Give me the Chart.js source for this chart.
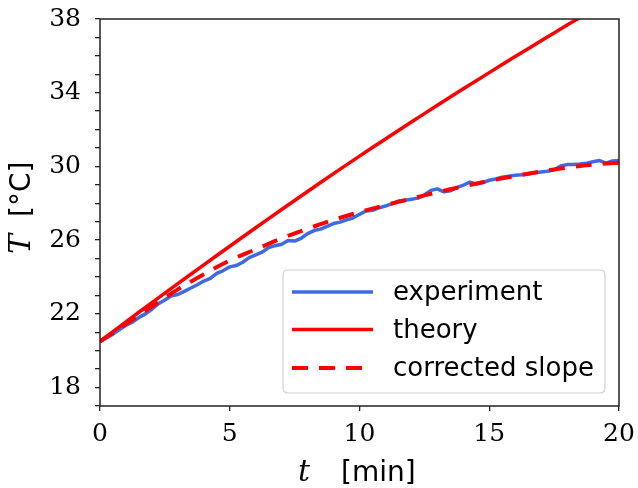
<!DOCTYPE html>
<html>
<head>
<meta charset="utf-8">
<script src="https://cdn.jsdelivr.net/npm/chart.js@4/dist/chart.umd.min.js"></script>
<style>
  html, body { margin: 0; padding: 0; background: #fff; }
  #c { display: block; }
</style>
</head>
<body>
<canvas id="c" width="638" height="488"></canvas>
<script>
// Model curves, one value per minute
const modelMinutes = [0, 1, 2, 3, 4, 5, 6, 7, 8, 9, 10, 11, 12, 13, 14, 15, 16, 17, 18, 19, 20];
const theoryTemp = [20.50, 21.56, 22.61, 23.64, 24.66, 25.67, 26.67, 27.66, 28.64, 29.61, 30.56,
                    31.49, 32.41, 33.32, 34.21, 35.09, 35.96, 36.82, 37.67, 38.50, 39.32];
const correctedTemp = [20.50, 21.45, 22.40, 23.33, 24.15, 24.90, 25.50, 26.10, 26.62, 27.10, 27.52,
                       27.90, 28.25, 28.60, 28.92, 29.22, 29.48, 29.72, 29.93, 30.10, 30.20];

// Measured temperature, sampled every quarter minute
const expMinutes = [0, 0.25, 0.5, 0.75, 1, 1.25, 1.5, 1.75, 2, 2.25, 2.5, 2.75, 3, 3.25, 3.5, 3.75,
                    4, 4.25, 4.5, 4.75, 5, 5.25, 5.5, 5.75, 6, 6.25, 6.5, 6.75, 7, 7.25, 7.5, 7.75,
                    8, 8.25, 8.5, 8.75, 9, 9.25, 9.5, 9.75, 10, 10.25, 10.5, 10.75, 11, 11.25, 11.5, 11.75,
                    12, 12.25, 12.5, 12.75, 13, 13.25, 13.5, 13.75, 14, 14.25, 14.5, 14.75, 15, 15.25, 15.5, 15.75,
                    16, 16.25, 16.5, 16.75, 17, 17.25, 17.5, 17.75, 18, 18.25, 18.5, 18.75, 19, 19.25, 19.5, 19.75, 20];
const expTemp = [20.50, 20.70, 20.90, 21.15, 21.38, 21.55, 21.80, 22.00, 22.25, 22.55, 22.75, 22.98, 23.05, 23.22, 23.40, 23.58,
                 23.78, 23.92, 24.20, 24.35, 24.55, 24.62, 24.80, 25.05, 25.20, 25.35, 25.60, 25.70, 25.78, 25.98, 25.95, 26.10,
                 26.35, 26.52, 26.60, 26.75, 26.90, 26.98, 27.10, 27.20, 27.40, 27.58, 27.62, 27.75, 27.85, 27.98, 28.12, 28.16,
                 28.22, 28.28, 28.45, 28.70, 28.78, 28.62, 28.68, 28.85, 28.98, 29.15, 29.05, 29.12, 29.25, 29.32, 29.42, 29.47,
                 29.52, 29.55, 29.60, 29.66, 29.70, 29.74, 29.82, 30.02, 30.10, 30.10, 30.13, 30.18, 30.25, 30.32, 30.18, 30.30, 30.32];

// Axis ticks
const xTickLabels = [0, 5, 10, 15, 20];
const yTickLabels = [18, 22, 26, 30, 34, 38];

const seriesNames = ['experiment', 'theory', 'corrected slope'];

const toPoints = (xs, ys) => xs.map((x, i) => ({ x: x, y: ys[i] }));

const BLUE = '#4169e1';
const RED = '#ff0000';
const INK = '#222222';

// Frame, in-plot legend and mixed-font axis titles
const decorations = {
  id: 'decorations',
  afterDraw(chart) {
    const ctx = chart.ctx;
    const a = chart.chartArea;
    ctx.save();

    // legend box
    const lx = 283, ly = 270, lw = 322, lh = 123, r = 5;
    ctx.beginPath();
    ctx.moveTo(lx + r, ly);
    ctx.lineTo(lx + lw - r, ly);
    ctx.quadraticCurveTo(lx + lw, ly, lx + lw, ly + r);
    ctx.lineTo(lx + lw, ly + lh - r);
    ctx.quadraticCurveTo(lx + lw, ly + lh, lx + lw - r, ly + lh);
    ctx.lineTo(lx + r, ly + lh);
    ctx.quadraticCurveTo(lx, ly + lh, lx, ly + lh - r);
    ctx.lineTo(lx, ly + r);
    ctx.quadraticCurveTo(lx, ly, lx + r, ly);
    ctx.closePath();
    ctx.fillStyle = 'rgba(255,255,255,0.85)';
    ctx.fill();
    ctx.strokeStyle = '#d0d0d0';
    ctx.lineWidth = 1.2;
    ctx.stroke();

    const rows = [292, 329.5, 368];
    chart.data.datasets.forEach((ds, i) => {
      const y = rows[i];
      ctx.beginPath();
      ctx.setLineDash(ds.borderDash || []);
      ctx.lineCap = 'butt';
      ctx.strokeStyle = ds.borderColor;
      ctx.lineWidth = ds.borderWidth;
      ctx.moveTo(292, y);
      ctx.lineTo(373, y);
      ctx.stroke();
      ctx.setLineDash([]);
      ctx.fillStyle = '#000';
      ctx.font = '26px "DejaVu Sans"';
      ctx.textAlign = 'left';
      ctx.textBaseline = 'alphabetic';
      ctx.fillText(ds.label, 393, y + 8);
    });

    // frame
    ctx.strokeStyle = INK;
    ctx.lineWidth = 1.5;
    ctx.strokeRect(a.left, a.top, a.right - a.left, a.bottom - a.top);

    // x title: t  [min]
    ctx.fillStyle = '#000';
    ctx.textBaseline = 'alphabetic';
    ctx.textAlign = 'left';
    ctx.font = 'italic 30px "DejaVu Serif"';
    ctx.fillText('t', 298, 481);
    ctx.font = '28px "DejaVu Sans"';
    ctx.fillText('[min]', 341, 481);

    // y title: T  [°C], reading upward
    ctx.translate(30, 0);
    ctx.rotate(-Math.PI / 2);
    ctx.font = 'italic 30px "DejaVu Serif"';
    ctx.fillText('T', -254, 0);
    ctx.font = '28px "DejaVu Sans"';
    ctx.fillText('[°C]', -217, 0);

    ctx.restore();
  }
};

// keep the plot box fixed: no extra room reserved for overhanging tick labels
function noScalePadding(scale) {
  scale.paddingTop = 0;
  scale.paddingBottom = 0;
  scale.paddingLeft = 0;
  scale.paddingRight = 0;
}

new Chart(document.getElementById('c'), {
  type: 'line',
  data: {
    datasets: [
      {
        label: seriesNames[0],
        data: toPoints(expMinutes, expTemp),
        borderColor: BLUE,
        borderWidth: 3.5,
        borderJoinStyle: 'round',
        pointRadius: 0,
        tension: 0,
        order: 3
      },
      {
        label: seriesNames[1],
        data: toPoints(modelMinutes, theoryTemp),
        borderColor: RED,
        borderWidth: 3.5,
        pointRadius: 0,
        tension: 0.4,
        order: 2
      },
      {
        label: seriesNames[2],
        data: toPoints(modelMinutes, correctedTemp),
        borderColor: RED,
        borderWidth: 4,
        borderDash: [16, 11],
        borderCapStyle: 'butt',
        pointRadius: 0,
        tension: 0.4,
        order: 1
      }
    ]
  },
  options: {
    responsive: false,
    animation: false,
    layout: { autoPadding: false, padding: { top: 19, right: 19, left: 0, bottom: 0 } },
    plugins: {
      legend: { display: false },
      tooltip: { enabled: false }
    },
    scales: {
      x: {
        type: 'linear',
        min: 0,
        max: 20,
        afterBuildTicks(scale) {
          scale.ticks = xTickLabels.map(v => ({ value: v }));
        },
        afterFit(scale) { scale.height = 82; noScalePadding(scale); },
        ticks: {
          color: '#000',
          font: { family: 'DejaVu Serif', size: 25 },
          padding: 8,
          maxRotation: 0,
          callback: v => String(v)
        },
        grid: { drawOnChartArea: false, drawTicks: true, tickLength: 5, color: INK, lineWidth: 1.3 },
        border: { display: false }
      },
      y: {
        type: 'linear',
        min: 17,
        max: 38,
        afterFit(scale) { scale.width = 100; noScalePadding(scale); },
        ticks: {
          stepSize: 1,
          autoSkip: false,
          color: '#000',
          font: { family: 'DejaVu Serif', size: 25 },
          padding: 14,
          callback: v => (yTickLabels.includes(v) ? String(v) : '')
        },
        grid: { drawOnChartArea: false, drawTicks: true, tickLength: 5, color: INK, lineWidth: 1.3 },
        border: { display: false }
      }
    }
  },
  plugins: [decorations]
});
</script>
</body>
</html>
